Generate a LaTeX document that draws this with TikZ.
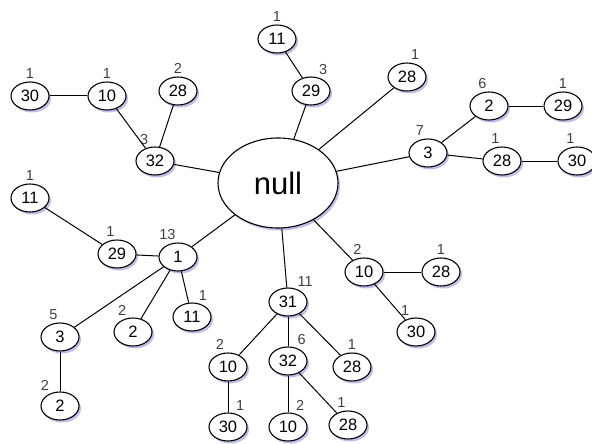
\documentclass[tikz,border=0pt]{standalone}
\usepackage{fontspec}
\setmainfont{Liberation Sans}
\usetikzlibrary{shapes.geometric}
\usetikzlibrary{shadows}

\begin{document}
\begin{tikzpicture}[
        x=1pt, y=-1pt,
        elem/.style={ellipse, draw=black, line width=1.1pt, fill=white,
            minimum width=38pt, minimum height=28pt, inner sep=0pt,
            font=\fontsize{16.5}{16.5}\selectfont,
            drop shadow={shadow xshift=2pt, shadow yshift=-2.5pt, fill=blue!45!gray, opacity=0.35}},
        root/.style={elem, minimum width=120pt, minimum height=90pt, font=\fontsize{31}{31}\selectfont},
        cnt/.style={font=\fontsize{14.5}{14.5}\selectfont, text=black!75, inner sep=1pt},
        link/.style={line width=1pt}
    ]
        \useasboundingbox (0,0) rectangle (592,444);

        % 根节点
        \node[root] (null) at (278,183) {null};

        % 定义节点: 名称/值/计数/标签角度/x/y
        \def\entries{
            t30/30/1/90/30/96,
            t10/10/1/90/107/96,
            t28/28/2/90/178/91,
            t32/32/3/110/155/161,
            t11/11/1/90/277/39,
            t29/29/3/65/311/91,
            r28/28/1/80/407/77,
            r3/3/7/100/428/153,
            r2/2/6/95/489/106,
            r29/29/1/90/563/106,
            r28b/28/1/95/502/161,
            r30/30/1/95/577/161,
            l11/11/1/90/30/198,
            l29/29/1/95/117/254,
            n1/1/13/95/178/257,
            b11/11/1/70/192/317,
            b2/2/2/110/133/332,
            l3/3/5/95/60/337,
            l2/2/2/125/60/406,
            m31/31/11/60/288/302,
            m10/10/2/100/228/367,
            m32/32/6/60/288/361,
            m28/28/1/90/352/367,
            m30/30/1/65/228/427,
            m10b/10/2/65/288/427,
            m28b/28/1/95/348/425,
            s10/10/2/95/364/272,
            s28/28/1/90/441/272,
            s30/30/1/110/416/332
        }

        % 绘制节点和计数标签
        \foreach \nm/\val/\cnt/\ang/\x/\y in \entries {
            \node[elem, label={[cnt, label distance=1.5pt]\ang:\cnt}] (\nm) at (\x,\y) {\val};
        }

        % 绘制连线
        \foreach \a/\b in {null/t32, t32/t10, t10/t30, t32/t28, null/t29, t29/t11,
            null/r28, null/r3, r3/r2, r2/r29, r3/r28b, r28b/r30,
            null/n1, n1/l29, l29/l11, n1/l3, l3/l2, n1/b2, n1/b11,
            null/m31, m31/m10, m10/m30, m31/m32, m32/m10b, m32/m28b, m31/m28,
            null/s10, s10/s28, s10/s30} {
            \draw[link] (\a) -- (\b);
        }
    \end{tikzpicture}
\end{document}
